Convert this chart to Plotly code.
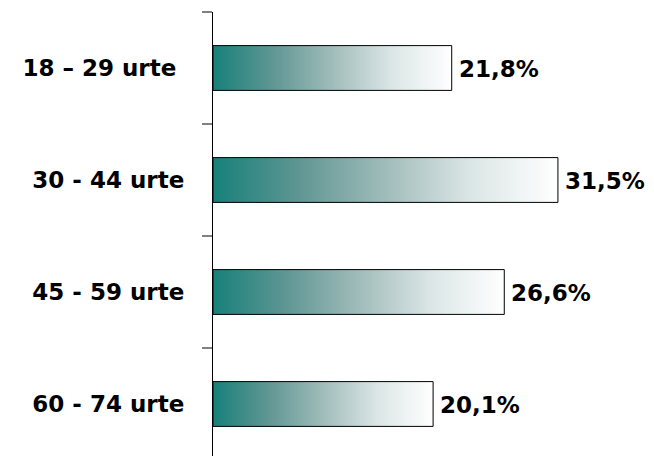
import plotly.graph_objects as go

categories = ["18 – 29 urte\u00a0", "30 - 44 urte", "45 - 59 urte", "60 - 74 urte"]
values = [21.8, 31.5, 26.6, 20.1]
value_labels = ["21,8%", "31,5%", "26,6%", "20,1%"]

BAR_HALF = 0.2
grad = [[0.0, "#17807a"], [0.25, "#5f9693"], [0.5, "#a0bcba"], [0.75, "#dce6e6"], [1.0, "#ffffff"]]
font = dict(family="DejaVu Sans", size=23, color="black", weight="bold")

fig = go.Figure()
for i, v in enumerate(values):
    fig.add_trace(go.Scatter(
        x=[0, v, v, 0, 0],
        y=[i - BAR_HALF, i - BAR_HALF, i + BAR_HALF, i + BAR_HALF, i - BAR_HALF],
        mode="lines",
        fill="toself",
        fillgradient=dict(type="horizontal", colorscale=grad),
        line=dict(color="black", width=1),
        hoverinfo="skip",
        showlegend=False,
    ))
    fig.add_annotation(x=v, y=i, text=value_labels[i], showarrow=False,
                       xanchor="left", yanchor="middle", xshift=5, yshift=-1,
                       font=font)

fig.update_layout(
    width=654, height=456,
    margin=dict(l=213, r=0, t=12, b=0),
    paper_bgcolor="white", plot_bgcolor="white",
    xaxis=dict(range=[0, 441 / 10.95], visible=False, showgrid=False,
               zeroline=False, automargin=False),
    yaxis=dict(
        range=[-0.5 + 444 / 112, -0.5], automargin=False,
        tickmode="array", tickvals=list(range(len(categories))), ticktext=categories,
        ticks="", showgrid=False, zeroline=False,
        showline=True, linecolor="black", linewidth=1.3,
        tickfont=font, ticklabelstandoff=23,
        minor=dict(tickmode="array", tickvals=[-0.5, 0.5, 1.5, 2.5, 3.5],
                   ticks="outside", ticklen=10, tickcolor="#808080", tickwidth=1.5,
                   showgrid=False),
    ),
)
fig.write_html("out.html", config={"displayModeBar": False},
               post_script="document.body.style.margin='0px';")
